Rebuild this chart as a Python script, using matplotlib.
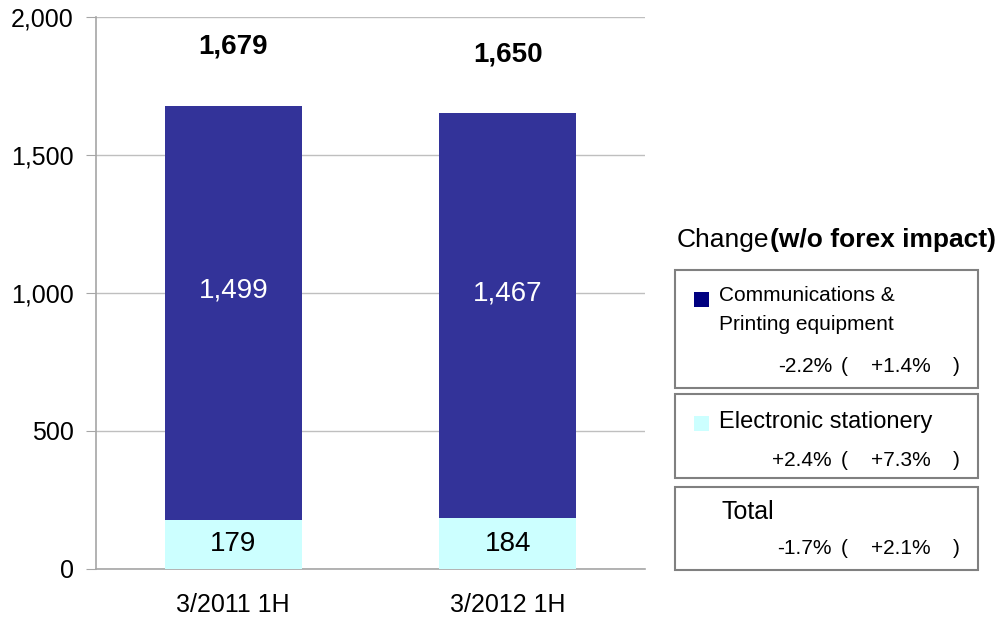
import matplotlib.pyplot as plt
from matplotlib.patches import Rectangle
from matplotlib.ticker import FuncFormatter

plt.rcParams['font.family'] = ['Liberation Sans', 'DejaVu Sans']

# Data
periods = ['3/2011 1H', '3/2012 1H']
electronic = [179, 184]
communications = [1499, 1467]
totals = [1679, 1650]

segment_names = ['Communications &\nPrinting equipment', 'Electronic stationery', 'Total']
change = ['-2.2%', '+2.4%', '-1.7%']
change_wo_forex = ['+1.4%', '+7.3%', '+2.1%']

dark_blue = '#333399'
light_cyan = '#CCFFFF'

fig = plt.figure(figsize=(9.98, 6.2), dpi=100)
ax = fig.add_axes([0.0962, 0.0823, 0.5501, 0.8903])

x = range(len(periods))
ax.bar(x, electronic, width=0.5, color=light_cyan, zorder=3)
ax.bar(x, communications, width=0.5, bottom=electronic, color=dark_blue, zorder=3)

for i in x:
    ax.text(i, electronic[i] / 2, str(electronic[i]), ha='center', va='center',
            fontsize=20, color='black', zorder=4)
    ax.text(i, electronic[i] + communications[i] / 2 + 80, f'{communications[i]:,}',
            ha='center', va='center', fontsize=20, color='white', zorder=4)
    ax.text(i, totals[i] + 215, f'{totals[i]:,}', ha='center', va='center',
            fontsize=20, fontweight='bold', color='black', zorder=4)

ax.set_xlim(-0.5, 1.5)
ax.set_ylim(0, 2000)
ax.set_yticks([0, 500, 1000, 1500, 2000])
ax.yaxis.set_major_formatter(FuncFormatter(lambda v, p: f'{int(v):,}'))
ax.set_xticks(list(x))
ax.set_xticklabels(periods)
ax.grid(axis='y', color='#BFBFBF', linewidth=1, zorder=0)

for side in ['top', 'right']:
    ax.spines[side].set_visible(False)
for side in ['left', 'bottom']:
    ax.spines[side].set_color('#A6A6A6')
    ax.spines[side].set_linewidth(1.2)

ax.tick_params(axis='y', length=7, color='#A6A6A6', labelsize=18, pad=9)
ax.tick_params(axis='x', length=0, labelsize=18, pad=17)

# Change panel on the right
t = fig.text(677 / 998, 1 - 240 / 620, 'Change', fontsize=19, va='center', ha='left')
ax.annotate('(w/o forex impact)', xy=(1, 0.5), xycoords=t, fontsize=19,
            fontweight='bold', va='center', ha='left', annotation_clip=False)

boxes = [(270, 388), (394, 478), (487, 570)]
for top, bottom in boxes:
    fig.patches.append(Rectangle((675 / 998, 1 - bottom / 620), 303 / 998,
                                 (bottom - top) / 620, transform=fig.transFigure,
                                 facecolor='white', edgecolor='#808080', linewidth=1.5))

marker_colors = ['#000080', light_cyan, None]
marker_bottom = [307, 431, None]
name_pos = [(719, 310), (719, 422), (721, 512)]
name_size = [15, 17, 18]
pct_pos = [366, 461, 548]
for i in range(3):
    nx, ny = name_pos[i]
    if marker_colors[i]:
        fig.patches.append(Rectangle((694 / 998, 1 - marker_bottom[i] / 620),
                                     15 / 998, 15 / 620, transform=fig.transFigure,
                                     facecolor=marker_colors[i], edgecolor='none'))
    fig.text(nx / 998, 1 - ny / 620, segment_names[i], fontsize=name_size[i], va='center',
             ha='left', linespacing=1.7)
    fig.text(832 / 998, 1 - pct_pos[i] / 620, change[i], fontsize=15, va='center', ha='right')
    fig.text(841 / 998, 1 - pct_pos[i] / 620, '(', fontsize=15, va='center', ha='left')
    fig.text(931 / 998, 1 - pct_pos[i] / 620, change_wo_forex[i], fontsize=15,
             va='center', ha='right')
    fig.text(953 / 998, 1 - pct_pos[i] / 620, ')', fontsize=15, va='center', ha='left')

fig.savefig('out.png', dpi=100)
